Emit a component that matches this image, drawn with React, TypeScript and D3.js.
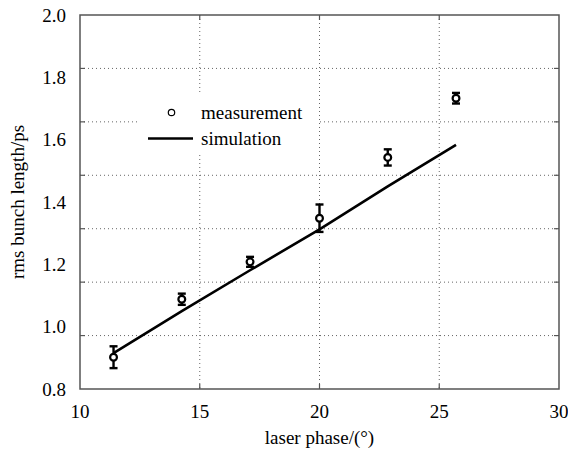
import { useEffect, useRef } from 'react';
import * as d3 from 'd3';

const phase = [11.4, 14.25, 17.1, 20.0, 22.85, 25.7];
const measured = [0.902, 1.088, 1.208, 1.348, 1.543, 1.733];
const errors = [0.035, 0.018, 0.016, 0.044, 0.026, 0.017];
const simulated = [0.915, 1.05, 1.181, 1.312, 1.45, 1.583];
const xTicks = [10, 15, 20, 25, 30];
const yTicks = [0.8, 1.0, 1.2, 1.4, 1.6, 1.8, 2.0];

const W = 568;
const H = 450;
const FONT = 'Liberation Serif, Times New Roman, Times, DejaVu Serif, serif';

export default function App() {
  const svgRef = useRef<SVGSVGElement>(null);

  useEffect(() => {
    const svg = d3.select(svgRef.current);
    svg.selectAll('*').remove();

    const m = { left: 80, right: 9, top: 15, bottom: 61 };
    const x = d3.scaleLinear().domain([10, 30]).range([m.left, W - m.right]);
    const y = d3.scaleLinear().domain([0.8, 2.0]).range([H - m.bottom, m.top]);
    const [x0, x1] = x.range();
    const [y0, y1] = y.range();

    svg.append('rect').attr('width', W).attr('height', H).attr('fill', '#fff');

    // grid: vertical at the x ticks, horizontal at 7 equal divisions
    const grid = svg.append('g')
      .attr('stroke', '#666')
      .attr('stroke-width', 1)
      .attr('stroke-dasharray', '1,3');
    xTicks.slice(1, -1).forEach(t => {
      grid.append('line').attr('x1', x(t)).attr('x2', x(t)).attr('y1', y1).attr('y2', y0);
    });
    const hGrid = d3.range(1, 7).map(i => y0 + (y1 - y0) * i / 7);
    hGrid.forEach(py => {
      grid.append('line').attr('x1', x0).attr('x2', x1).attr('y1', py).attr('y2', py);
    });

    // small inward ticks
    const ticks = svg.append('g').attr('stroke', '#555').attr('stroke-width', 1.2);
    xTicks.slice(1, -1).forEach(t => {
      ticks.append('line').attr('x1', x(t)).attr('x2', x(t)).attr('y1', y0).attr('y2', y0 - 5);
      ticks.append('line').attr('x1', x(t)).attr('x2', x(t)).attr('y1', y1).attr('y2', y1 + 5);
    });
    hGrid.forEach(py => {
      ticks.append('line').attr('x1', x1).attr('x2', x1 - 5).attr('y1', py).attr('y2', py);
      ticks.append('line').attr('x1', x0).attr('x2', x0 + 5).attr('y1', py).attr('y2', py);
    });

    // legend background hides grid
    svg.append('rect')
      .attr('x', 137).attr('y', 93).attr('width', 180).attr('height', 60)
      .attr('fill', '#fff');

    // frame
    svg.append('rect')
      .attr('x', x0).attr('y', y1).attr('width', x1 - x0).attr('height', y0 - y1)
      .attr('fill', 'none').attr('stroke', '#555').attr('stroke-width', 1.5);

    // tick labels
    svg.append('g').selectAll('text').data(xTicks).join('text')
      .attr('x', d => x(d)).attr('y', y0 + 29)
      .attr('text-anchor', 'middle')
      .style('font-family', FONT).style('font-size', '19px')
      .text(d => d);
    svg.append('g').selectAll('text').data(yTicks).join('text')
      .attr('x', x0 - 14).attr('y', d => y(d) + 6.5)
      .attr('text-anchor', 'end')
      .style('font-family', FONT).style('font-size', '19px')
      .text(d => d.toFixed(1));

    // axis titles
    svg.append('text')
      .attr('x', x(20)).attr('y', 444)
      .attr('text-anchor', 'middle')
      .style('font-family', FONT).style('font-size', '19px')
      .text('laser phase/(°)');
    svg.append('text')
      .attr('transform', `translate(24,${(y0 + y1) / 2}) rotate(-90)`)
      .attr('text-anchor', 'middle')
      .style('font-family', FONT).style('font-size', '19px')
      .text('rms bunch length/ps');

    // simulation line
    const line = d3.line<number>().x((_, i) => x(phase[i])).y(d => y(d));
    svg.append('path')
      .attr('d', line(simulated))
      .attr('fill', 'none').attr('stroke', '#000').attr('stroke-width', 2.6);

    // measurement with error bars
    const pts = svg.append('g').selectAll('g').data(measured).join('g')
      .attr('stroke', '#000');
    pts.append('line')
      .attr('x1', (_, i) => x(phase[i])).attr('x2', (_, i) => x(phase[i]))
      .attr('y1', (d, i) => y(d + errors[i])).attr('y2', (d, i) => y(d - errors[i]))
      .attr('stroke-width', 2.4);
    [1, -1].forEach(s => {
      pts.append('line')
        .attr('x1', (_, i) => x(phase[i]) - 4).attr('x2', (_, i) => x(phase[i]) + 4)
        .attr('y1', (d, i) => y(d + s * errors[i])).attr('y2', (d, i) => y(d + s * errors[i]))
        .attr('stroke-width', 2.4);
    });
    pts.append('circle')
      .attr('cx', (_, i) => x(phase[i])).attr('cy', d => y(d))
      .attr('r', 3.4).attr('fill', '#fff').attr('stroke-width', 2.2);

    // legend
    svg.append('circle')
      .attr('cx', 171.5).attr('cy', 112.5).attr('r', 3.2)
      .attr('fill', '#fff').attr('stroke', '#000').attr('stroke-width', 1.2);
    svg.append('text')
      .attr('x', 201).attr('y', 118.5)
      .style('font-family', FONT).style('font-size', '19px')
      .text('measurement');
    svg.append('line')
      .attr('x1', 148).attr('x2', 193).attr('y1', 138.5).attr('y2', 138.5)
      .attr('stroke', '#000').attr('stroke-width', 2.6);
    svg.append('text')
      .attr('x', 201).attr('y', 144.5)
      .style('font-family', FONT).style('font-size', '19px')
      .text('simulation');
  }, []);

  return (
    <svg
      ref={svgRef}
      width={W}
      height={H}
      style={{ position: 'absolute', left: 0, top: 0, display: 'block' }}
    />
  );
}
